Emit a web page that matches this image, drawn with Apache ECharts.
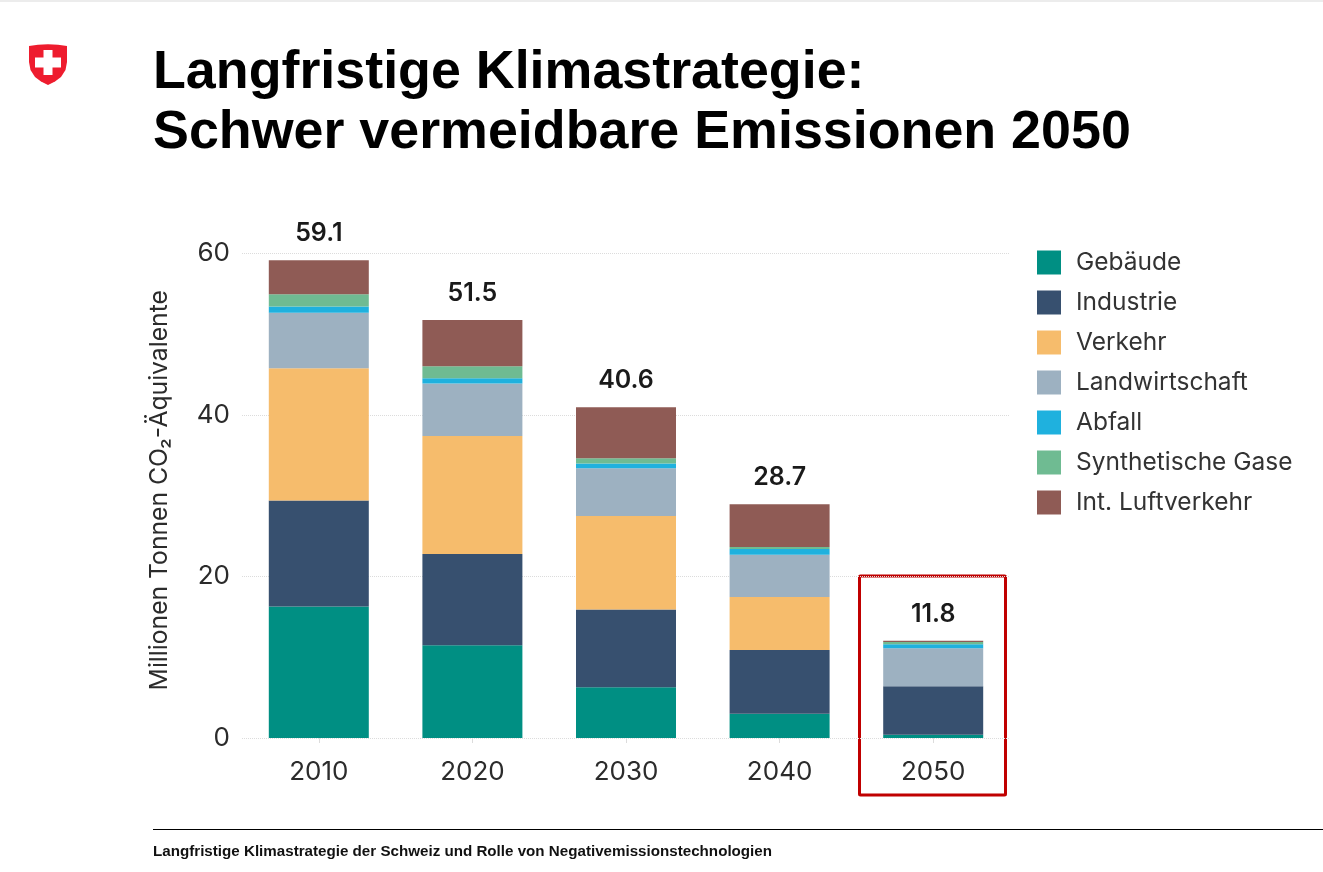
<!DOCTYPE html>
<html><head><meta charset="utf-8">
<style>html,body{margin:0;padding:0;background:#fff}#c{width:1323px;height:872px}</style>
<script src="https://cdn.jsdelivr.net/npm/echarts@6/dist/echarts.min.js"></script>
</head><body><div id="c"></div>
<script>
const years = ['2010','2020','2030','2040','2050'];
const totals = [59.1,51.5,40.6,28.7,11.8];
const gebaeude = [16.3,11.5,6.3,3.0,0.4];
const industrie = [13.1,11.3,9.6,7.9,6.0];
const verkehr = [16.4,14.6,11.6,6.55,0];
const landwirtschaft = [6.85,6.5,5.9,5.25,4.7];
const abfall = [0.8,0.65,0.6,0.7,0.5];
const synthetisch = [1.5,1.5,0.65,0.25,0.3];
const luftverkehr = [4.2,5.7,6.3,5.3,0.15];
const names = ['Gebäude','Industrie','Verkehr','Landwirtschaft','Abfall','Synthetische Gase','Int. Luftverkehr'];
const colors = ['#008f83','#37506f','#f6bc6c','#9db1c1','#1fb1de','#6fbb92','#8f5b55'];
const values = [gebaeude,industrie,verkehr,landwirtschaft,abfall,synthetisch,luftverkehr];
const FONT = 'Inter, sans-serif';
const series = names.map((n,i)=>({
  name:n,type:'bar',stack:'a',barWidth:100,data:values[i],
  itemStyle:{color:colors[i]},
  label: i===6 ? {show:true,position:'top',distance:14,
    formatter:p=>totals[p.dataIndex].toFixed(1),
    fontFamily:FONT,fontSize:25,fontWeight:600,color:'#1a1a1a'} : {show:false}
}));
const chart = echarts.init(document.getElementById('c'),null,{renderer:'canvas'});
chart.setOption({
  animation:false,
  backgroundColor:'#fff',
  grid:{left:242,right:313,top:253.5,bottom:134,containLabel:false},
  legend:{orient:'vertical',left:1032,top:245,itemWidth:24,itemHeight:24,itemGap:15,
    icon:'rect',data:names,
    textStyle:{fontFamily:FONT,fontSize:24.5,lineHeight:24,color:'#333',padding:[0,0,0,10]}},
  xAxis:{type:'category',data:years,
    axisLine:{show:false},
    axisTick:{show:true,alignWithLabel:true,length:5,lineStyle:{color:'#dcdcdc'}},
    axisLabel:{fontFamily:FONT,fontSize:26,color:'#2b2b2b',margin:21}},
  yAxis:{type:'value',min:0,max:60,interval:20,
    name:'Millionen Tonnen CO₂-Äquivalente',nameLocation:'middle',nameRotate:90,nameGap:70,
    nameTextStyle:{fontFamily:FONT,fontSize:24.7,color:'#2b2b2b',padding:[0,0,0,11]},
    axisLine:{show:false},axisTick:{show:false},
    axisLabel:{fontFamily:FONT,fontSize:26,color:'#2b2b2b',margin:12},
    splitLine:{lineStyle:{color:'#dcdcdc',type:'dotted',width:1}}},
  series:series,
  graphic:[
    {type:'rect',silent:true,shape:{x:0,y:0,width:1323,height:2},style:{fill:'#ececec'}},
    {type:'polygon',silent:true,shape:{points:[[29,46],[38,44.7],[48,44.3],[58,44.7],[67,46],[67,62],[65.5,70],[61,77],[55,81.5],[48,85],[41,81.5],[35,77],[30.5,70],[29,62]]},style:{fill:'#ee1c2e'}},
    {type:'rect',silent:true,shape:{x:43.5,y:50,width:9,height:25},style:{fill:'#fff'}},
    {type:'rect',silent:true,shape:{x:35,y:57.5,width:26,height:10},style:{fill:'#fff'}},
    {type:'text',left:153,top:46,style:{text:'Langfristige Klimastrategie:',font:'bold 53.8px "Liberation Sans"',fill:'#000'}},
    {type:'text',left:153,top:106,style:{text:'Schwer vermeidbare Emissionen 2050',font:'bold 53.8px "Liberation Sans"',fill:'#000'}},
    {type:'rect',silent:true,shape:{x:859.5,y:576,width:146,height:219,r:1},style:{fill:'none',stroke:'#c00000',lineWidth:3}},
    {type:'rect',silent:true,shape:{x:153,y:829,width:1170,height:1},style:{fill:'#000'}},
    {type:'text',left:153,top:844,style:{text:'Langfristige Klimastrategie der Schweiz und Rolle von Negativemissionstechnologien',font:'bold 15.17px "Liberation Sans"',fill:'#111'}}
  ]
});
</script></body></html>
